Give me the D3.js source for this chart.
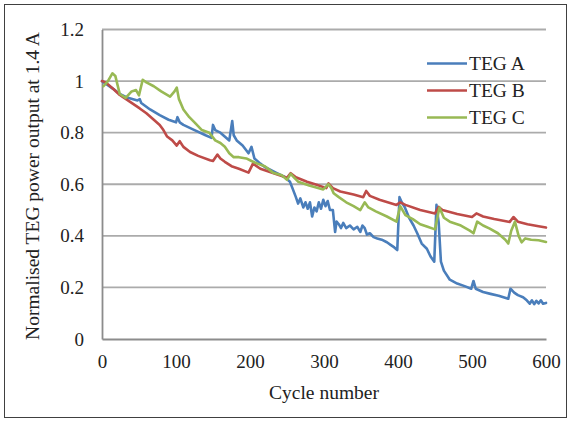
<!DOCTYPE html>
<html><head><meta charset="utf-8">
<script src="https://cdn.jsdelivr.net/npm/d3@7"></script>
<style>html,body{margin:0;padding:0;background:#fff;}svg{display:block;}</style>
</head><body>
<svg id="chart" width="571" height="421"></svg>
<script>
const seriesNames = ["TEG A", "TEG B", "TEG C"];
const seriesColors = ["#4A7EBB", "#BE4B48", "#98B954"];
const xTicks = [0, 100, 200, 300, 400, 500, 600];
const yTicks = [0, 0.2, 0.4, 0.6, 0.8, 1, 1.2];

const cyclesA = [0,5,15,24,35,48,51,53,65,78,90,100,102,105,110,125,140,148,150,153,160,172,176,178,182,190,198,202,206,214,220,235,247,254,258,262,265,268,272,275,278,281,284,287,290,293,296,299,302,305,308,312,315,317,320,323,326,330,335,340,345,349,352,355,358,362,367,372,378,385,390,395,399,402,405,409,415,421,426,432,439,444,449,452,455,458,462,470,480,490,499,502,505,515,525,536,549,552,557,562,569,574,578,581,584,587,590,593,596,600];
const valuesA = [1.0,0.99,0.97,0.95,0.935,0.925,0.93,0.915,0.89,0.868,0.85,0.84,0.86,0.84,0.83,0.81,0.79,0.78,0.83,0.81,0.8,0.77,0.845,0.79,0.77,0.75,0.72,0.745,0.7,0.68,0.667,0.645,0.628,0.61,0.58,0.55,0.525,0.545,0.51,0.53,0.505,0.53,0.475,0.51,0.495,0.53,0.505,0.54,0.515,0.535,0.5,0.5,0.415,0.455,0.445,0.43,0.45,0.43,0.44,0.425,0.435,0.415,0.44,0.43,0.405,0.41,0.395,0.39,0.385,0.375,0.365,0.355,0.345,0.55,0.53,0.512,0.47,0.44,0.41,0.37,0.35,0.32,0.3,0.52,0.45,0.3,0.265,0.23,0.215,0.205,0.195,0.225,0.195,0.182,0.175,0.168,0.156,0.195,0.18,0.17,0.162,0.15,0.137,0.15,0.135,0.148,0.138,0.15,0.137,0.14];

const cyclesB = [0,5,15,24,35,51,60,70,78,83,88,95,101,105,110,119,130,146,150,156,160,166,175,185,198,204,214,230,250,255,262,277,290,303,306,312,322,340,353,357,362,375,398,403,410,430,450,455,460,480,500,506,515,530,551,556,562,575,590,600];
const valuesB = [1.0,0.995,0.97,0.946,0.925,0.894,0.875,0.85,0.83,0.81,0.785,0.77,0.75,0.767,0.745,0.725,0.71,0.693,0.69,0.715,0.7,0.687,0.67,0.66,0.645,0.68,0.66,0.645,0.625,0.643,0.627,0.61,0.598,0.585,0.603,0.585,0.572,0.56,0.55,0.574,0.555,0.54,0.52,0.53,0.52,0.5,0.487,0.512,0.5,0.485,0.473,0.487,0.475,0.465,0.454,0.473,0.455,0.445,0.437,0.432];

const cyclesC = [2,8,14,18,24,32,40,46,50,55,60,70,80,92,98,101,104,110,118,125,135,145,153,160,166,172,178,185,195,202,210,220,231,243,250,255,260,265,280,299,306,310,313,320,330,340,349,355,360,370,385,398,403,410,420,430,440,450,456,462,470,485,497,502,507,515,524,535,545,549,553,558,563,567,572,580,590,600];
const valuesC = [0.98,1.0,1.03,1.02,0.95,0.935,0.96,0.965,0.945,1.005,0.995,0.98,0.96,0.94,0.96,0.975,0.93,0.89,0.86,0.84,0.81,0.8,0.77,0.76,0.745,0.72,0.705,0.705,0.7,0.69,0.68,0.67,0.645,0.635,0.617,0.64,0.625,0.61,0.595,0.58,0.6,0.585,0.565,0.55,0.53,0.515,0.5,0.53,0.51,0.495,0.475,0.455,0.515,0.48,0.465,0.445,0.435,0.425,0.51,0.47,0.455,0.44,0.42,0.41,0.455,0.44,0.428,0.41,0.385,0.37,0.42,0.455,0.4,0.375,0.39,0.385,0.383,0.376];

const svg = d3.select("#chart");
const font = "'Liberation Serif','Times New Roman',serif";

const x = d3.scaleLinear().domain([0, 600]).range([102, 546]);
const y = d3.scaleLinear().domain([0, 1.2]).range([339, 29.5]);

// outer frame
svg.append("rect").attr("x", 4.5).attr("y", 4.5).attr("width", 562).attr("height", 413)
  .attr("fill", "none").attr("stroke", "#404040").attr("stroke-width", 1);

// gridlines
svg.append("g").selectAll("line").data(yTicks.filter(d => d > 0)).join("line")
  .attr("x1", x(0)).attr("x2", x(600))
  .attr("y1", d => y(d)).attr("y2", d => y(d))
  .attr("stroke", "#ababab").attr("stroke-width", 1.8);

// axes
const yAxis = d3.axisLeft(y).tickValues(yTicks).tickSize(0).tickPadding(18)
  .tickFormat(d => d3.format("")(+d.toFixed(1)));
const gy = svg.append("g").attr("transform", `translate(${x(0)},0)`).call(yAxis);
gy.select(".domain").attr("stroke", "#8c8c8c").attr("stroke-width", 1.8);
gy.selectAll("text").attr("font-family", font).attr("font-size", 19).attr("fill", "#222");

const xAxis = d3.axisBottom(x).tickValues(xTicks).tickSize(0).tickPadding(16);
const gx = svg.append("g").attr("transform", `translate(0,${y(0)})`).call(xAxis);
gx.select(".domain").attr("stroke", "#8c8c8c").attr("stroke-width", 1.8);
gx.selectAll("text").attr("font-family", font).attr("font-size", 19).attr("fill", "#222");

// axis titles
svg.append("text").attr("x", 324).attr("y", 399).attr("text-anchor", "middle")
  .attr("font-family", font).attr("font-size", 19.5).attr("fill", "#222").text("Cycle number");
svg.append("text").attr("transform", "translate(39,186) rotate(-90)").attr("text-anchor", "middle")
  .attr("font-family", font).attr("font-size", 19.5).attr("fill", "#222")
  .text("Normalised TEG power output at 1.4 A");

// lines
const line = d3.line().x(d => x(d[0])).y(d => y(d[1]));
const series = [
  d3.zip(cyclesA, valuesA),
  d3.zip(cyclesB, valuesB),
  d3.zip(cyclesC, valuesC)
];
svg.append("g").selectAll("path").data(series).join("path")
  .attr("d", line).attr("fill", "none")
  .attr("stroke", (d, i) => seriesColors[i]).attr("stroke-width", 2.6)
  .attr("stroke-linejoin", "round").attr("stroke-linecap", "round");

// legend
const lg = svg.append("g").selectAll("g").data(seriesNames).join("g")
  .attr("transform", (d, i) => `translate(427,${63.5 + i * 27})`);
lg.append("line").attr("x1", 0).attr("x2", 40).attr("y1", 0).attr("y2", 0)
  .attr("stroke", (d, i) => seriesColors[i]).attr("stroke-width", 2.6);
lg.append("text").attr("x", 42).attr("y", 0).attr("dy", "0.35em")
  .attr("font-family", font).attr("font-size", 19.5).attr("fill", "#222").text(d => d);
</script>
</body></html>
